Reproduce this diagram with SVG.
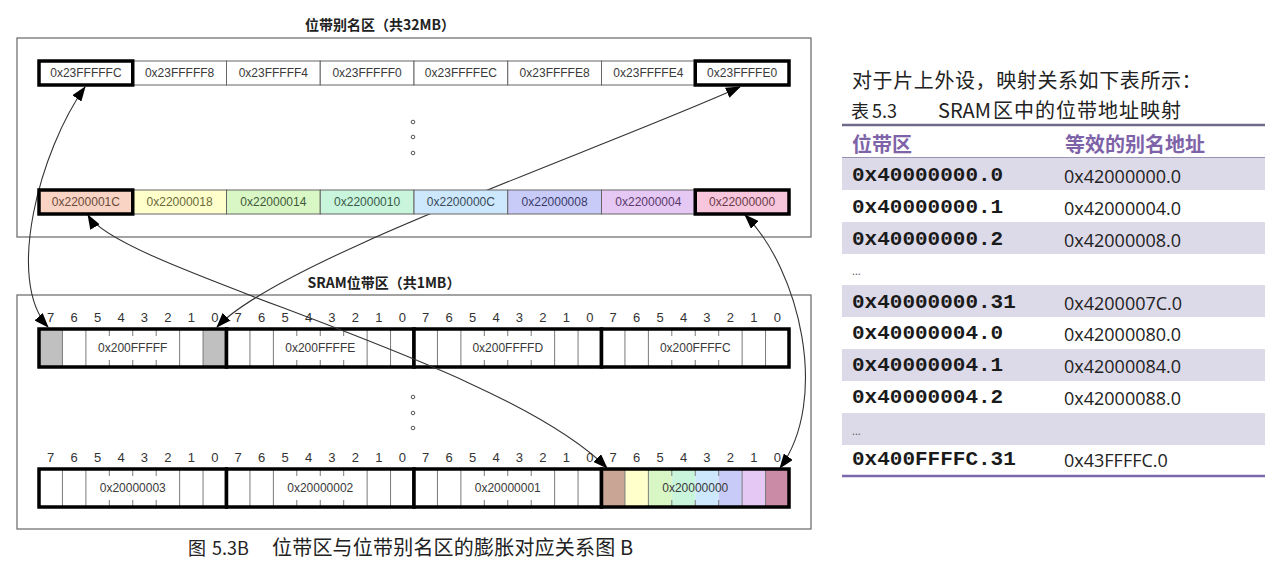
<svg xmlns="http://www.w3.org/2000/svg" width="1282" height="579" viewBox="0 0 1282 579">
<style>
.box{fill:#fff;stroke:#666;stroke-width:1.2}
.ttl{font-family:"Noto Sans CJK SC","Liberation Sans",sans-serif;font-size:14px;font-weight:bold;fill:#222;text-anchor:middle}
.cell{stroke:#666;stroke-width:1}
.hl{fill:none;stroke:#000;stroke-width:3.5}
.lbl{font-family:"Liberation Sans",Arial,sans-serif;font-size:12px;fill:#3a3a3a;text-anchor:middle}
.bitn{font-family:"Liberation Sans",Arial,sans-serif;font-size:13px;fill:#333;text-anchor:middle}
.thin{stroke:#7a7a7a;stroke-width:1;fill:none}
.thick{fill:none;stroke:#000;stroke-width:3.5}
.dot{fill:none;stroke:#555;stroke-width:1}
.conn{fill:none;stroke:#333;stroke-width:1.1;marker-start:url(#ah);marker-end:url(#ah)}
.gray{fill:#c0c0c0}
.cap{font-family:"Noto Sans CJK SC",sans-serif;font-size:20px;fill:#222}
.tx{font-family:"Noto Sans CJK SC",sans-serif;font-size:20px;fill:#222}
.th{font-family:"Noto Sans CJK SC",sans-serif;font-size:20px;font-weight:bold;fill:#7e63a8}
.c1{font-family:"Liberation Mono","Courier New",monospace;font-size:21px;font-weight:bold;fill:#1a1a1a}
.c2{font-family:"Open Sans","Noto Sans",sans-serif;font-size:18px;fill:#222}
.shade{fill:#dcd9e8}
</style>
<defs>
<marker id="ah" viewBox="0 0 15 11" refX="14" refY="5.5" markerWidth="15" markerHeight="11" markerUnits="userSpaceOnUse" orient="auto-start-reverse">
<path d="M0,0 L15,5.5 L0,11 z" fill="#000"/>
</marker>
</defs>
<rect width="1282" height="579" fill="#fff"/>

<!-- region boxes -->
<g id="alias-region">
<rect class="box" x="17" y="38" width="794" height="199"/>
<text class="ttl" x="380" y="30">位带别名区（共32MB）</text>
<circle class="dot" cx="413" cy="122" r="1.8"/>
<circle class="dot" cx="413" cy="137" r="1.8"/>
<circle class="dot" cx="413" cy="153" r="1.8"/>
</g>
<g id="sram-region">
<rect class="box" x="17" y="295" width="794" height="234"/>
<text class="ttl" x="384" y="288">SRAM位带区（共1MB）</text>
<circle class="dot" cx="413" cy="397" r="1.8"/>
<circle class="dot" cx="413" cy="413" r="1.8"/>
<circle class="dot" cx="413" cy="428" r="1.8"/>
<text class="bitn" x="50.72 74.16 97.59 121.03 144.47 167.91 191.34 214.78 238.22 261.66 285.09 308.53 331.97 355.41 378.84 402.28 425.72 449.16 472.59 496.03 519.47 542.91 566.34 589.78 613.22 636.66 660.09 683.53 706.97 730.41 753.84 777.28" y="322">76543210765432107654321076543210</text>
<text class="bitn" x="50.72 74.16 97.59 121.03 144.47 167.91 191.34 214.78 238.22 261.66 285.09 308.53 331.97 355.41 378.84 402.28 425.72 449.16 472.59 496.03 519.47 542.91 566.34 589.78 613.22 636.66 660.09 683.53 706.97 730.41 753.84 777.28" y="462">76543210765432107654321076543210</text>
</g>

<!-- SRAM bytes, upper row -->
<g id="sram-200FFFFF">
<rect x="39" y="329" width="187.5" height="38" fill="#fff"/>
<rect class="gray" x="39" y="329" width="23.44" height="38"/>
<rect class="gray" x="203.06" y="329" width="23.44" height="38"/>
<path class="thin" d="M62.44 329V367M85.88 329V367M109.31 329V336M109.31 360V367M132.75 329V336M132.75 360V367M156.19 329V336M156.19 360V367M179.63 329V367M203.06 329V367"/>
<text class="lbl" x="132.75" y="352">0x200FFFFF</text>
<rect class="thick" x="39" y="329" width="187.5" height="38"/>
</g>
<g id="sram-200FFFFE">
<rect x="226.5" y="329" width="187.5" height="38" fill="#fff"/>
<path class="thin" d="M249.94 329V367M273.38 329V367M296.81 329V336M296.81 360V367M320.25 329V336M320.25 360V367M343.69 329V336M343.69 360V367M367.13 329V367M390.56 329V367"/>
<text class="lbl" x="320.25" y="352">0x200FFFFE</text>
<rect class="thick" x="226.5" y="329" width="187.5" height="38"/>
</g>
<g id="sram-200FFFFD">
<rect x="414" y="329" width="187.5" height="38" fill="#fff"/>
<path class="thin" d="M437.44 329V367M460.88 329V367M484.31 329V336M484.31 360V367M507.75 329V336M507.75 360V367M531.19 329V336M531.19 360V367M554.63 329V367M578.06 329V367"/>
<text class="lbl" x="507.75" y="352">0x200FFFFD</text>
<rect class="thick" x="414" y="329" width="187.5" height="38"/>
</g>
<g id="sram-200FFFFC">
<rect x="601.5" y="329" width="187.5" height="38" fill="#fff"/>
<path class="thin" d="M624.94 329V367M648.38 329V367M671.81 329V336M671.81 360V367M695.25 329V336M695.25 360V367M718.69 329V336M718.69 360V367M742.13 329V367M765.56 329V367"/>
<text class="lbl" x="695.25" y="352">0x200FFFFC</text>
<rect class="thick" x="601.5" y="329" width="187.5" height="38"/>
</g>

<!-- SRAM bytes, lower row -->
<g id="sram-20000003">
<rect x="39" y="469" width="187.5" height="38" fill="#fff"/>
<path class="thin" d="M62.44 469V507M85.88 469V507M109.31 469V476M109.31 500V507M132.75 469V476M132.75 500V507M156.19 469V476M156.19 500V507M179.63 469V507M203.06 469V507"/>
<text class="lbl" x="132.75" y="492">0x20000003</text>
<rect class="thick" x="39" y="469" width="187.5" height="38"/>
</g>
<g id="sram-20000002">
<rect x="226.5" y="469" width="187.5" height="38" fill="#fff"/>
<path class="thin" d="M249.94 469V507M273.38 469V507M296.81 469V476M296.81 500V507M320.25 469V476M320.25 500V507M343.69 469V476M343.69 500V507M367.13 469V507M390.56 469V507"/>
<text class="lbl" x="320.25" y="492">0x20000002</text>
<rect class="thick" x="226.5" y="469" width="187.5" height="38"/>
</g>
<g id="sram-20000001">
<rect x="414" y="469" width="187.5" height="38" fill="#fff"/>
<path class="thin" d="M437.44 469V507M460.88 469V507M484.31 469V476M484.31 500V507M507.75 469V476M507.75 500V507M531.19 469V476M531.19 500V507M554.63 469V507M578.06 469V507"/>
<text class="lbl" x="507.75" y="492">0x20000001</text>
<rect class="thick" x="414" y="469" width="187.5" height="38"/>
</g>
<g id="sram-20000000">
<rect x="601.5" y="469" width="23.44" height="38" fill="#c9a595"/>
<rect x="624.94" y="469" width="23.44" height="38" fill="#ffffcc"/>
<rect x="648.38" y="469" width="23.44" height="38" fill="#d9f7c5"/>
<rect x="671.81" y="469" width="23.44" height="38" fill="#c9f5dc"/>
<rect x="695.25" y="469" width="23.44" height="38" fill="#cde8fc"/>
<rect x="718.69" y="469" width="23.44" height="38" fill="#c8cbf8"/>
<rect x="742.13" y="469" width="23.44" height="38" fill="#e6c8f5"/>
<rect x="765.56" y="469" width="23.44" height="38" fill="#c98ba5"/>
<path class="thin" d="M624.94 469V507M648.38 469V507M671.81 469V476M671.81 500V507M695.25 469V476M695.25 500V507M718.69 469V476M718.69 500V507M742.13 469V507M765.56 469V507"/>
<text class="lbl" x="695.25" y="492">0x20000000</text>
<rect class="thick" x="601.5" y="469" width="187.5" height="38"/>
</g>

<!-- connectors -->
<g id="connectors">
<path class="conn" d="M85,87 C40,150 5,280 48,327"/>
<path class="conn" d="M740,87 C600,150 280,260 217,327"/>
<path class="conn" d="M88,215 C120,270 500,360 607,468"/>
<path class="conn" d="M745,215 C800,270 830,400 780,468"/>
</g>

<!-- alias words, upper row -->
<g id="alias-23FFFFF8"><rect class="cell" x="132.75" y="61" width="93.75" height="24" fill="#fff"/><text class="lbl" x="179.63" y="77">0x23FFFFF8</text></g>
<g id="alias-23FFFFF4"><rect class="cell" x="226.5" y="61" width="93.75" height="24" fill="#fff"/><text class="lbl" x="273.38" y="77">0x23FFFFF4</text></g>
<g id="alias-23FFFFF0"><rect class="cell" x="320.25" y="61" width="93.75" height="24" fill="#fff"/><text class="lbl" x="367.13" y="77">0x23FFFFF0</text></g>
<g id="alias-23FFFFEC"><rect class="cell" x="414" y="61" width="93.75" height="24" fill="#fff"/><text class="lbl" x="460.88" y="77">0x23FFFFEC</text></g>
<g id="alias-23FFFFE8"><rect class="cell" x="507.75" y="61" width="93.75" height="24" fill="#fff"/><text class="lbl" x="554.63" y="77">0x23FFFFE8</text></g>
<g id="alias-23FFFFE4"><rect class="cell" x="601.5" y="61" width="93.75" height="24" fill="#fff"/><text class="lbl" x="648.38" y="77">0x23FFFFE4</text></g>
<g id="alias-23FFFFFC"><rect class="cell" x="39" y="61" width="93.75" height="24" fill="#fff"/><rect class="hl" x="39" y="61" width="93.75" height="24"/><text class="lbl" x="85.88" y="77">0x23FFFFFC</text></g>
<g id="alias-23FFFFE0"><rect class="cell" x="695.25" y="61" width="93.75" height="24" fill="#fff"/><rect class="hl" x="695.25" y="61" width="93.75" height="24"/><text class="lbl" x="742.13" y="77">0x23FFFFE0</text></g>

<!-- alias words, lower row -->
<g id="alias-22000018"><rect class="cell" x="132.75" y="190" width="93.75" height="24" fill="#ffffcc"/><text class="lbl" x="179.63" y="206" style="fill:#6a6a3a">0x22000018</text></g>
<g id="alias-22000014"><rect class="cell" x="226.5" y="190" width="93.75" height="24" fill="#d9f7c5"/><text class="lbl" x="273.38" y="206" style="fill:#3f5a3a">0x22000014</text></g>
<g id="alias-22000010"><rect class="cell" x="320.25" y="190" width="93.75" height="24" fill="#c9f5dc"/><text class="lbl" x="367.13" y="206" style="fill:#3a5a4a">0x22000010</text></g>
<g id="alias-2200000C"><rect class="cell" x="414" y="190" width="93.75" height="24" fill="#cde8fc"/><text class="lbl" x="460.88" y="206" style="fill:#3a4a5a">0x2200000C</text></g>
<g id="alias-22000008"><rect class="cell" x="507.75" y="190" width="93.75" height="24" fill="#c8cbf8"/><text class="lbl" x="554.63" y="206" style="fill:#3a3a6a">0x22000008</text></g>
<g id="alias-22000004"><rect class="cell" x="601.5" y="190" width="93.75" height="24" fill="#e6c8f5"/><text class="lbl" x="648.38" y="206" style="fill:#5a3a6a">0x22000004</text></g>
<g id="alias-2200001C"><rect class="cell" x="39" y="190" width="93.75" height="24" fill="#f9d4c4"/><rect class="hl" x="39" y="190" width="93.75" height="24"/><text class="lbl" x="85.88" y="206" style="fill:#6a4a3a">0x2200001C</text></g>
<g id="alias-22000000"><rect class="cell" x="695.25" y="190" width="93.75" height="24" fill="#f7c6dc"/><rect class="hl" x="695.25" y="190" width="93.75" height="24"/><text class="lbl" x="742.13" y="206" style="fill:#6a3a4a">0x22000000</text></g>

<!-- caption -->
<text class="cap" y="555"><tspan x="188" style="font-size:18px">图</tspan><tspan x="212" style="font-size:18px">5.3B</tspan><tspan x="272" letter-spacing="0.2">位带区与位带别名区的膨胀对应关系图 B</tspan></text>

<!-- table -->
<g id="table">
<text class="tx" x="852" y="88" letter-spacing="0.6">对于片上外设，映射关系如下表所示：</text>
<text class="tx" y="118"><tspan x="851" style="font-size:18px">表</tspan><tspan x="872" style="font-size:18px">5.3</tspan><tspan x="938">SRAM</tspan><tspan x="993" letter-spacing="1">区中的位带地址映射</tspan></text>
<rect class="shade" x="842" y="158" width="423" height="32"/>
<rect class="shade" x="842" y="222" width="423" height="32"/>
<rect class="shade" x="842" y="285" width="423" height="32"/>
<rect class="shade" x="842" y="349" width="423" height="32"/>
<rect class="shade" x="842" y="413" width="423" height="32"/>
<line x1="842" y1="125" x2="1265" y2="125" stroke="#6f6a8a" stroke-width="2.5"/>
<line x1="842" y1="157.5" x2="1265" y2="157.5" stroke="#9a92b4" stroke-width="1"/>
<line x1="842" y1="476" x2="1265" y2="476" stroke="#7a68aa" stroke-width="2.5"/>
<text class="th" x="852" y="152">位带区</text>
<text class="th" x="1065" y="152">等效的别名地址</text>
<text class="c1" x="852" y="181">0x40000000.0</text><text class="c2" x="1064" y="183">0x42000000.0</text>
<text class="c1" x="852" y="213">0x40000000.1</text><text class="c2" x="1064" y="215">0x42000004.0</text>
<text class="c1" x="852" y="245">0x40000000.2</text><text class="c2" x="1064" y="247">0x42000008.0</text>
<text class="c2" x="852" y="275" style="font-size:11px;fill:#555">...</text>
<text class="c1" x="852" y="308">0x40000000.31</text><text class="c2" x="1064" y="310">0x4200007C.0</text>
<text class="c1" x="852" y="339">0x40000004.0</text><text class="c2" x="1064" y="341">0x42000080.0</text>
<text class="c1" x="852" y="371">0x40000004.1</text><text class="c2" x="1064" y="373">0x42000084.0</text>
<text class="c1" x="852" y="403">0x40000004.2</text><text class="c2" x="1064" y="405">0x42000088.0</text>
<text class="c2" x="852" y="435" style="font-size:11px;fill:#555">...</text>
<text class="c1" x="852" y="465">0x400FFFFC.31</text><text class="c2" x="1064" y="467">0x43FFFFC.0</text>
</g>
</svg>
